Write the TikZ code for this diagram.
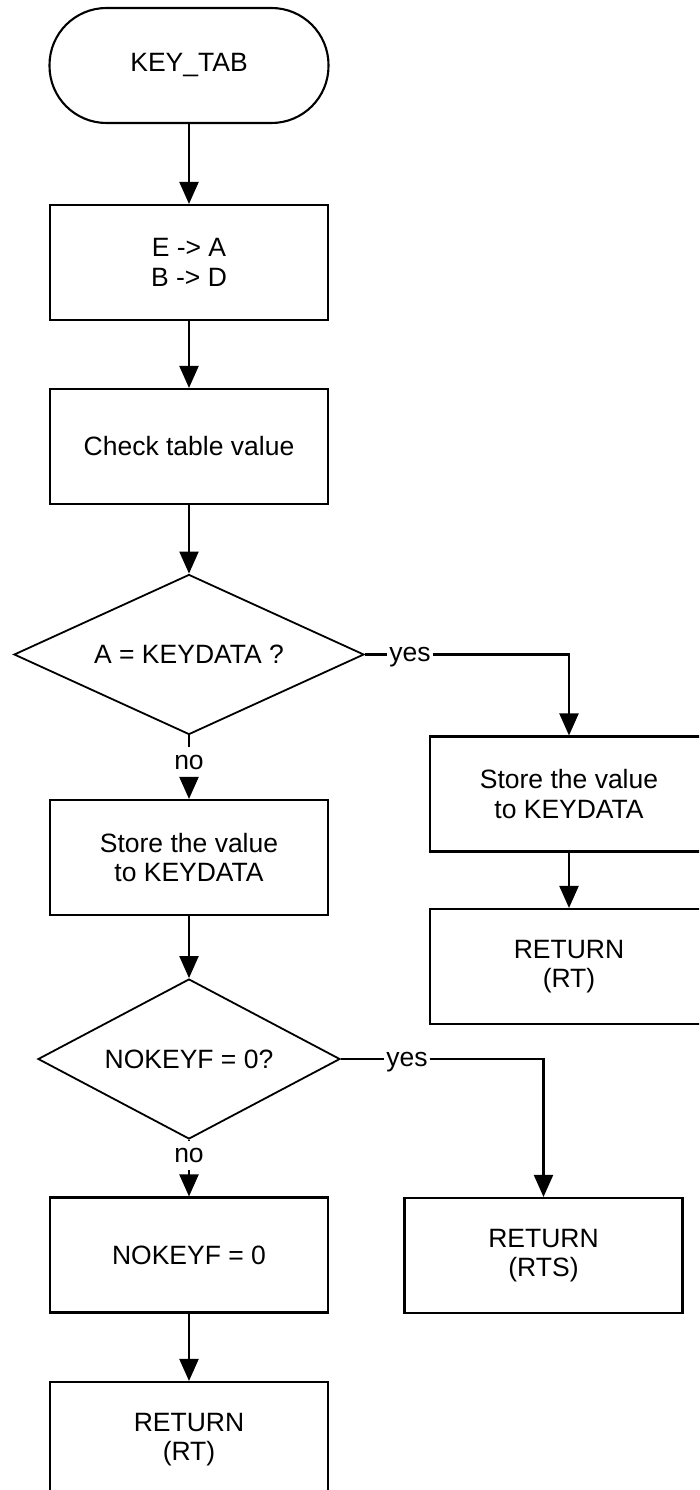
\documentclass[tikz,border=0pt]{standalone}
\usepackage{fontspec}
\setmainfont{Liberation Sans}
\usetikzlibrary{arrows.meta,shapes.geometric}
\begin{document}
\begin{tikzpicture}[x=1pt,y=-1pt, line width=2.1pt,
  every node/.style={font=\fontsize{26.5}{29.5}\selectfont},
  proc/.style={draw, rectangle, minimum width=278pt, minimum height=115pt, align=center, inner sep=0pt},
  term/.style={draw, rectangle, rounded corners=57pt, minimum width=279pt, minimum height=115pt, inner sep=0pt},
  dec/.style={draw, diamond, inner sep=0pt, line width=1.8pt},
  lbl/.style={inner xsep=1pt, inner ysep=7pt, text depth=0pt},
  flow/.style={-{Triangle[length=22pt,width=19pt]}}]
\clip (0,0) rectangle (699,1490);
\fill[white] (0,0) rectangle (699,1490);
\node[term] (start) at (189,65.5) {KEY\_TAB};
\node[proc] (b1) at (189,262.5) {E -> A\\B -> D};
\node[proc] (b2) at (189,446.5) {Check table value};
\node[dec, minimum width=350pt, minimum height=160pt, aspect=2.19] (d1) at (189,654.5) {A = KEYDATA ?};
\node[lbl] (yes1) at (410,654.5) {yes};
\node[lbl] (no1) at (189,762) {no};
\node[proc] (r1) at (569,794) {Store the value\\to KEYDATA};
\node[proc] (r2) at (569,966.5) {RETURN\\(RT)};
\node[proc] (b3) at (189,857.5) {Store the value\\to KEYDATA};
\node[dec, minimum width=302pt, minimum height=160pt, aspect=1.89] (d2) at (189,1059) {NOKEYF = 0?};
\node[lbl] (yes2) at (407,1059) {yes};
\node[lbl] (no2) at (189,1155) {no};
\node[proc] (b4) at (189,1255) {NOKEYF = 0};
\node[proc] (r3) at (543.5,1255.5) {RETURN\\(RTS)};
\node[proc] (b5) at (189,1439.5) {RETURN\\(RT)};
\draw[flow] (start) -- (b1);
\draw[flow] (b1) -- (b2);
\draw[flow] (b2) -- (d1);
\draw (d1.east) -- (yes1.west);
\draw[flow] (yes1.east) -| (r1.north);
\draw (d1.south) -- (no1.north);
\draw[flow] (no1.south) -- (b3.north);
\draw[flow] (r1) -- (r2);
\draw[flow] (b3) -- (d2);
\draw (d2.east) -- (yes2.west);
\draw[flow] (yes2.east) -| (r3.north);
\draw (d2.south) -- (no2.north);
\draw[flow] (no2.south) -- (b4.north);
\draw[flow] (b4) -- (b5);
\end{tikzpicture}
\end{document}
